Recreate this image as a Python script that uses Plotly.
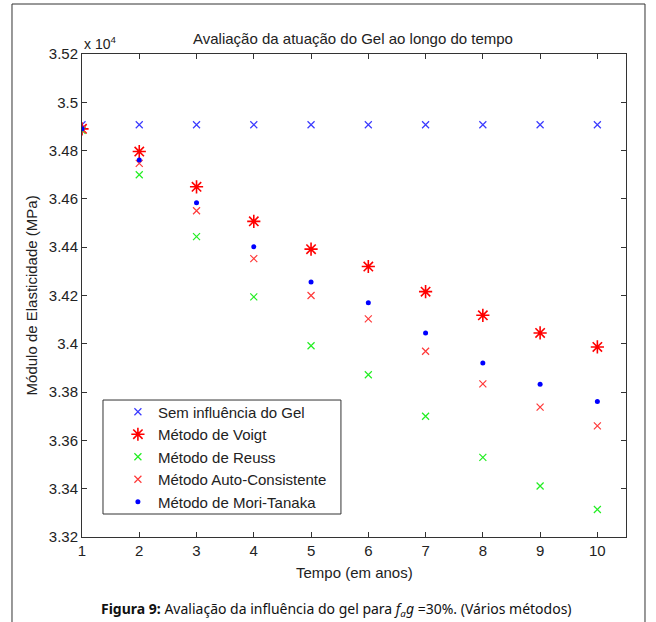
import plotly.graph_objects as go

# ---- data (MPa) ----
tempo = [1, 2, 3, 4, 5, 6, 7, 8, 9, 10]
sem_influencia = [34907, 34907, 34907, 34907, 34907, 34907, 34907, 34907, 34907, 34907]
voigt = [34890, 34796, 34650, 34507, 34392, 34320, 34216, 34118, 34045, 33987]
reuss = [34884, 34700, 34444, 34194, 33992, 33872, 33700, 33530, 33411, 33314]
auto_consistente = [34888, 34747, 34551, 34353, 34200, 34103, 33969, 33834, 33738, 33660]
mori_tanaka = [34890, 34761, 34584, 34402, 34256, 34170, 34045, 33920, 33833, 33761]

y_tick_vals = [33200, 33400, 33600, 33800, 34000, 34200, 34400, 34600, 34800, 35000, 35200]
y_tick_labels = ["3.32", "3.34", "3.36", "3.38", "3.4", "3.42", "3.44", "3.46", "3.48", "3.5", "3.52"]
x_tick_vals = [1, 2, 3, 4, 5, 6, 7, 8, 9, 10]

FONT = "Liberation Sans, Arial, sans-serif"
TXT = "#222222"

fig = go.Figure()
fig.add_trace(go.Scatter(x=tempo, y=sem_influencia, mode="markers", name="Sem influência do Gel",
                         marker=dict(symbol="x-thin-open", size=7, color="#3a3aff", line=dict(width=1.2))))
fig.add_trace(go.Scatter(x=tempo, y=voigt, mode="markers", name="Método de Voigt",
                         marker=dict(symbol="asterisk-open", size=11, color="#ff0000", line=dict(width=1.6))))
fig.add_trace(go.Scatter(x=tempo, y=reuss, mode="markers", name="Método de Reuss",
                         marker=dict(symbol="x-thin-open", size=7, color="#22ee22", line=dict(width=1.2))))
fig.add_trace(go.Scatter(x=tempo, y=auto_consistente, mode="markers", name="Método Auto-Consistente",
                         marker=dict(symbol="x-thin-open", size=7, color="#ff3a3a", line=dict(width=1.2))))
fig.add_trace(go.Scatter(x=tempo, y=mori_tanaka, mode="markers", name="Método de Mori-Tanaka",
                         marker=dict(symbol="circle", size=5, color="#0000ff", line=dict(width=0))))

axis_common = dict(showgrid=False, zeroline=False, showline=True, linecolor="#333333", linewidth=1,
                   mirror="ticks", ticks="inside", ticklen=5, tickcolor="#333333",
                   tickfont=dict(family=FONT, size=15, color=TXT))

fig.update_xaxes(range=[1, 10.5], tickvals=x_tick_vals, **axis_common)
fig.update_yaxes(range=[33200, 35200], tickvals=y_tick_vals, ticktext=y_tick_labels, **axis_common)

fig.update_layout(
    width=656, height=622,
    margin=dict(l=82, r=30, t=54, b=85),
    paper_bgcolor="white", plot_bgcolor="white",
    font=dict(family=FONT, size=15, color=TXT),
    showlegend=True,
    legend=dict(x=0.0660, y=0.293, xanchor="left", yanchor="top",
                borderwidth=0, bgcolor="rgba(0,0,0,0)",
                font=dict(family=FONT, size=15, color=TXT),
                tracegroupgap=0),
    annotations=[
        dict(text="Avaliação da atuação do Gel ao longo do tempo", xref="paper", yref="paper",
             x=0.498, y=1.010, xanchor="center", yanchor="bottom", showarrow=False,
             font=dict(family=FONT, size=15, color=TXT)),
        dict(text="x 10<sup>4</sup>", xref="paper", yref="paper", x=0.0, y=1.0,
             xanchor="left", yanchor="bottom", showarrow=False,
             font=dict(family=FONT, size=14, color=TXT)),
        dict(text="Módulo de Elasticidade (MPa)", xref="paper", yref="paper", x=-0.092, y=0.5,
             xanchor="center", yanchor="middle", textangle=-90, showarrow=False,
             font=dict(family=FONT, size=15, color=TXT)),
        dict(text="Tempo (em anos)", xref="paper", yref="paper", x=0.5, y=-0.074,
             xanchor="center", yanchor="middle", showarrow=False,
             font=dict(family=FONT, size=15, color=TXT)),
        dict(text="<b>Figura 9:</b> Avaliação da influência do gel para <i>f<sub>a</sub>g</i> =30%. (Vários métodos)",
             xref="paper", yref="paper", x=0.467, y=-0.150, xanchor="center", yanchor="middle",
             showarrow=False, font=dict(family="Noto Sans, Open Sans, sans-serif", size=14, color="#111111")),
    ],
    shapes=[
        # legend box
        dict(type="rect", xref="paper", yref="paper", x0=0.0386, x1=0.476, y0=0.0476, y1=0.2836,
             line=dict(color="#333333", width=1), fillcolor="white", layer="above"),
        # outer frame
        dict(type="line", xref="paper", yref="paper", x0=-0.1287, x1=-0.1287, y0=-0.18, y1=1.1035,
             line=dict(color="#333333", width=1)),
        dict(type="line", xref="paper", yref="paper", x0=-0.1287, x1=1.0349, y0=1.1035, y1=1.1035,
             line=dict(color="#333333", width=1)),
        dict(type="line", xref="paper", yref="paper", x0=1.0349, x1=1.0349, y0=-0.18, y1=1.1035,
             line=dict(color="#333333", width=1)),
    ],
)

fig.write_html("out.html", config={"displayModeBar": False},
               post_script="document.body.style.margin='0';")
